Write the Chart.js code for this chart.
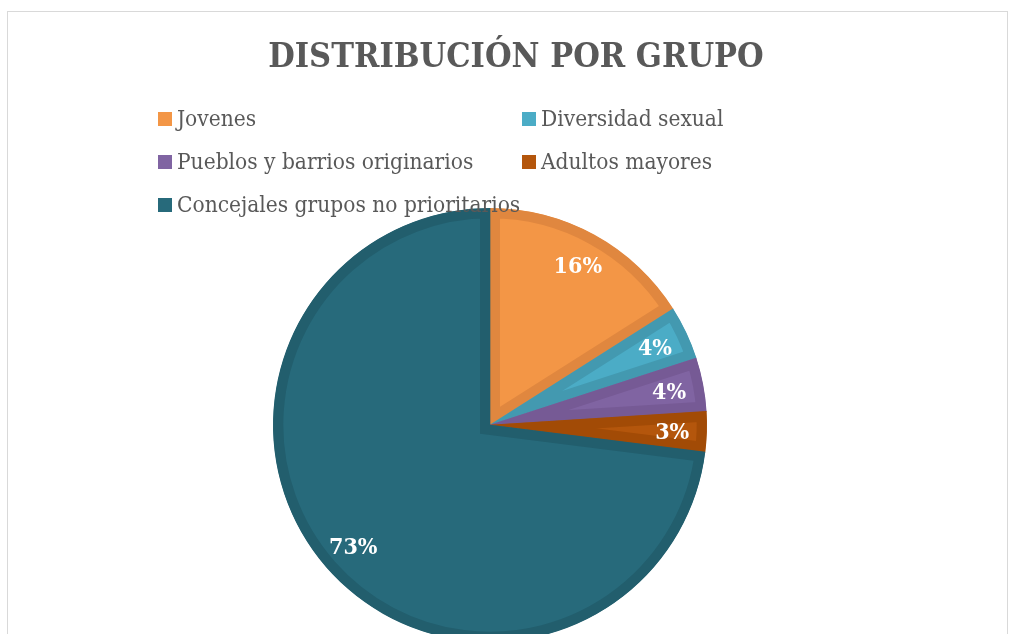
<!DOCTYPE html>
<html>
<head>
<meta charset="utf-8">
<script src="https://cdn.jsdelivr.net/npm/chart.js@4"></script>
<style>
  html, body { margin: 0; padding: 0; background: #fff; overflow: hidden; }
  #wrap { position: relative; width: 1011px; height: 634px; overflow: hidden; }
  #frame { position: absolute; left: 7px; top: 11px; width: 1001px; height: 700px; border: 1px solid #D9D9D9; box-sizing: border-box; }
  #box { position: absolute; left: 0; top: 0; width: 1011px; height: 700px; }
</style>
</head>
<body>
<div id="wrap">
  <div id="frame"></div>
  <div id="box"><canvas id="pie-chart"></canvas></div>
</div>
<script>
const chartTitle = 'DISTRIBUCIÓN POR GRUPO';
const groups = ['Jovenes', 'Diversidad sexual', 'Pueblos y barrios originarios', 'Adultos mayores', 'Concejales grupos no prioritarios'];
const shares = [16, 4, 4, 3, 73];
const fillColors = ['#F39646', '#4BACC6', '#8064A2', '#B4560C', '#276A7B'];
const edgeColors = ['#E0873F', '#4399B0', '#765A95', '#A24B06', '#225E6D'];

const serif = '"DejaVu Serif Condensed", "DejaVu Serif", serif';

// titulo, leyenda en dos columnas y porcentajes
const extras = {
  id: 'extras',
  afterDatasetsDraw(chart) {
    const ctx = chart.ctx;
    ctx.save();

    ctx.fillStyle = '#595959';
    ctx.font = 'bold 34px ' + serif;
    ctx.textAlign = 'center';
    ctx.textBaseline = 'alphabetic';
    ctx.fillText(chartTitle, 516, 67);

    // leyenda
    const colX = [158, 522];
    ctx.font = '22.5px ' + serif;
    ctx.textAlign = 'left';
    groups.forEach((g, i) => {
      const x = colX[i % 2];
      const base = 126 + Math.floor(i / 2) * 43;
      ctx.fillStyle = fillColors[i];
      ctx.fillRect(x, base - 14, 14, 14);
      ctx.fillStyle = '#595959';
      ctx.fillText(g, x + 19, base);
    });

    // etiquetas de porcentaje
    const meta = chart.getDatasetMeta(0);
    const total = shares.reduce((a, b) => a + b, 0);
    ctx.font = 'bold 23px ' + serif;
    ctx.fillStyle = '#ffffff';
    ctx.textAlign = 'center';
    ctx.textBaseline = 'middle';
    meta.data.forEach((arc, i) => {
      const p = arc.getProps(['x', 'y', 'startAngle', 'endAngle', 'outerRadius'], true);
      const mid = (p.startAngle + p.endAngle) / 2;
      const r = p.outerRadius * 0.84;
      const txt = Math.round(shares[i] / total * 100) + '%';
      ctx.fillText(txt, p.x + Math.cos(mid) * r, p.y + Math.sin(mid) * r + 2);
    });
    ctx.restore();
  }
};

new Chart(document.getElementById('pie-chart'), {
  type: 'pie',
  data: {
    labels: groups,
    datasets: [{
      data: shares,
      backgroundColor: fillColors,
      borderColor: edgeColors,
      borderWidth: 10,
      borderAlign: 'inner',
      borderJoinStyle: 'miter',
      radius: 217
    }]
  },
  options: {
    responsive: true,
    maintainAspectRatio: false,
    animation: false,
    layout: { padding: { top: 208, bottom: 58, left: 0, right: 31 } },
    plugins: {
      legend: { display: false },
      tooltip: { enabled: false }
    }
  },
  plugins: [extras]
});
</script>
</body>
</html>
